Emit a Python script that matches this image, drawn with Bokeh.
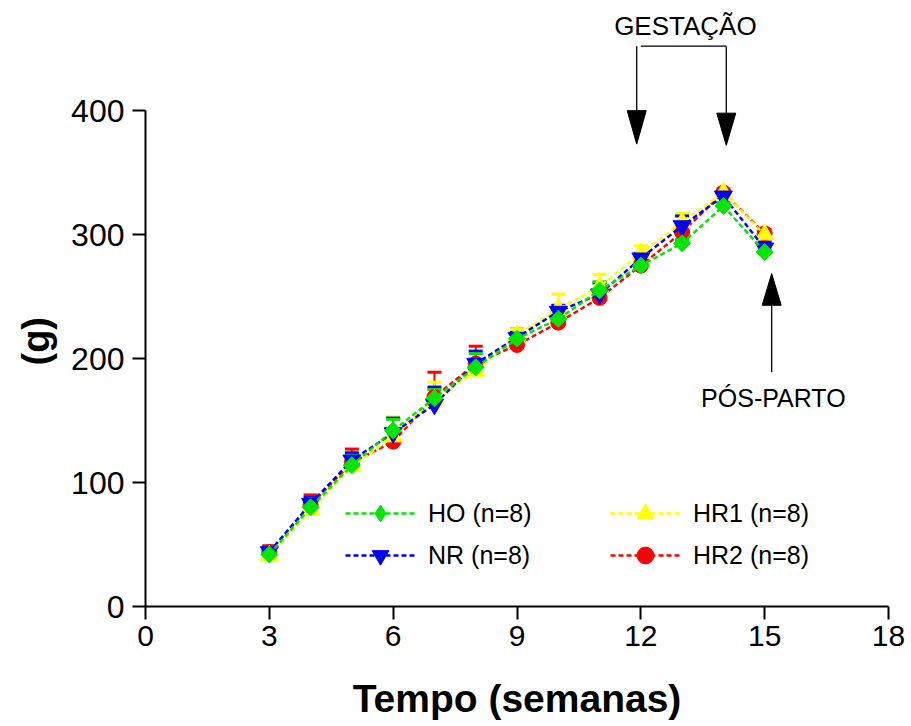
import math
from bokeh.plotting import figure
from bokeh.models import (Range1d, FixedTicker, Whisker, TeeHead, ColumnDataSource,
                          Legend, LegendItem, Label, Title)
from bokeh.embed import file_html
from bokeh.resources import INLINE

# ---- data ----
weeks = [3, 4, 5, 6, 7, 8, 9, 10, 11, 12, 13, 14, 15]
HO = [42, 80, 114, 142, 168, 193, 216, 232, 255, 275, 293, 323, 286]
HO_sem = [3, 5, 8, 9, 7, 11, 4, 4, 7, 3, 3, 3, 3]
NR = [44, 83, 118, 140, 163, 196, 217, 238, 252, 281, 307, 331, 289]
NR_sem = [4, 5, 6, 12, 14, 10, 4, 5, 9, 4, 8, 3, 5]
HR1 = [41, 78, 113, 137, 167, 190, 219, 240, 258, 285, 310, 334, 300]
HR1_sem = [3, 4, 5, 16, 14, 10, 5, 12, 10, 6, 7, 3, 3]
HR2 = [44, 82, 116, 133, 169, 196, 211, 229, 249, 275, 302, 334, 301]
HR2_sem = [5, 8, 11, 8, 20, 14, 13, 5, 5, 4, 4, 3, 3]

x_ticks = [0, 3, 6, 9, 12, 15, 18]
y_ticks = [0, 100, 200, 300, 400]

# annotation anchors (data units)
gest_x = [11.9, 14.07]
gest_top = 452
gest_head_base = [400, 398]
gest_head_tip = [373, 372]
pp_x = 15.17
pp_bottom, pp_head_base, pp_head_tip = 189, 243, 268.6

FONT = "Liberation Sans"

p = figure(width=911, height=726, output_backend="svg", toolbar_location=None,
           x_range=Range1d(0, 18), y_range=Range1d(0, 480),
           min_border_left=145, min_border_right=23, min_border_top=11,
           min_border_bottom=120)
p.outline_line_color = None
p.grid.visible = False
p.background_fill_color = "white"
p.border_fill_color = "white"

xa = p.xaxis[0]
ya = p.yaxis[0]
xa.ticker = FixedTicker(ticks=x_ticks)
ya.ticker = FixedTicker(ticks=y_ticks)
ya.bounds = (0, 400)
for ax in (xa, ya):
    ax.axis_line_width = 2
    ax.axis_line_color = "black"
    ax.major_tick_line_width = 2
    ax.major_tick_line_color = "black"
    ax.major_tick_in = 0
    ax.major_tick_out = 13
    ax.minor_tick_in = 0
    ax.minor_tick_out = 0
    ax.major_label_text_font = FONT
    ax.major_label_text_color = "black"
xa.major_label_text_font_size = "30px"
ya.major_label_text_font_size = "32px"
xa.major_label_standoff = 6
ya.major_label_standoff = 8
xa.axis_label = "Tempo (semanas)"
xa.axis_label_text_font = FONT
xa.axis_label_text_font_size = "39px"
xa.axis_label_text_font_style = "bold"
xa.axis_label_text_color = "black"
xa.axis_label_standoff = 28

p.add_layout(Title(text="(g)", align="left", offset=241, text_font=FONT,
                   text_font_size="38px", text_font_style="bold",
                   text_color="black", standoff=23), "left")

series = [
    ("HR2 (n=8)", HR2, HR2_sem, "#ff0000", "circle", 15, 0.0),
    ("HR1 (n=8)", HR1, HR1_sem, "#ffff00", "triangle", 18, 0.0),
    ("NR (n=8)", NR, NR_sem, "#0000ff", "inverted_triangle", 18, 0.0),
    ("HO (n=8)", HO, HO_sem, "#00e600", "square", 12, math.pi / 4),
]

renderers = {}
for name, vals, sem, col, mk, sz, ang in series:
    src = ColumnDataSource(dict(x=weeks, y=vals, up=[v + s for v, s in zip(vals, sem)]))
    w = Whisker(source=src, base="x", lower="y", upper="up", dimension="height",
                line_color=col, line_width=2, lower_head=None,
                upper_head=TeeHead(size=14, line_color=col, line_width=3),
                level="underlay")
    p.add_layout(w)
    ln = p.line("x", "y", source=src, line_color=col, line_width=2.4, line_dash="5 3")
    sc = p.scatter("x", "y", source=src, marker=mk, size=sz, angle=ang,
                   fill_color=col, line_color=col)
    if ang:
        # the legend ignores marker angle: use a hidden diamond for its swatch
        leg_sc = p.scatter("x", "y", source=src, marker="diamond", size=22,
                           fill_color=col, line_color=col, visible=False)
        renderers[name] = [ln, leg_sc]
    else:
        renderers[name] = [ln, sc]

common = dict(glyph_width=70, glyph_height=42, label_height=42, spacing=0,
              padding=0, margin=0, label_standoff=13, border_line_color=None,
              background_fill_alpha=0, inactive_fill_alpha=0, label_text_font=FONT,
              label_text_font_size="25px", label_text_color="black")
leg1 = Legend(items=[LegendItem(label="HO (n=8)", renderers=renderers["HO (n=8)"]),
                     LegendItem(label="NR (n=8)", renderers=renderers["NR (n=8)"])],
              location=(200, 30), **common)
leg2 = Legend(items=[LegendItem(label="HR1 (n=8)", renderers=renderers["HR1 (n=8)"]),
                     LegendItem(label="HR2 (n=8)", renderers=renderers["HR2 (n=8)"])],
              location=(465, 30), **common)
p.add_layout(leg1)
p.add_layout(leg2)

# arrows / bracket
hw = 0.23
p.multi_line(xs=[[gest_x[0], gest_x[0]], [gest_x[1], gest_x[1]], [gest_x[0] + 0.1, gest_x[1]],
                 [pp_x, pp_x]],
             ys=[[gest_top, gest_head_base[0]], [gest_top, gest_head_base[1]],
                 [gest_top, gest_top], [pp_bottom, pp_head_base]],
             line_color="black", line_width=1.3)
p.patches(xs=[[gest_x[0] - hw, gest_x[0] + hw, gest_x[0]],
              [gest_x[1] - hw, gest_x[1] + hw, gest_x[1]],
              [pp_x - hw, pp_x + hw, pp_x]],
          ys=[[gest_head_base[0], gest_head_base[0], gest_head_tip[0]],
              [gest_head_base[1], gest_head_base[1], gest_head_tip[1]],
              [pp_head_base, pp_head_base, pp_head_tip]],
          fill_color="black", line_color="black")

p.add_layout(Label(x=13.08, y=468, text="GESTAÇÃO", text_align="center",
                   text_baseline="alphabetic", text_font=FONT, text_font_size="26px",
                   text_color="black"))
p.add_layout(Label(x=15.21, y=168, text="PÓS-PARTO", text_align="center",
                   text_baseline="alphabetic", text_font=FONT, text_font_size="25px",
                   text_color="black"))

open("out.html", "w").write(file_html(p, INLINE))
